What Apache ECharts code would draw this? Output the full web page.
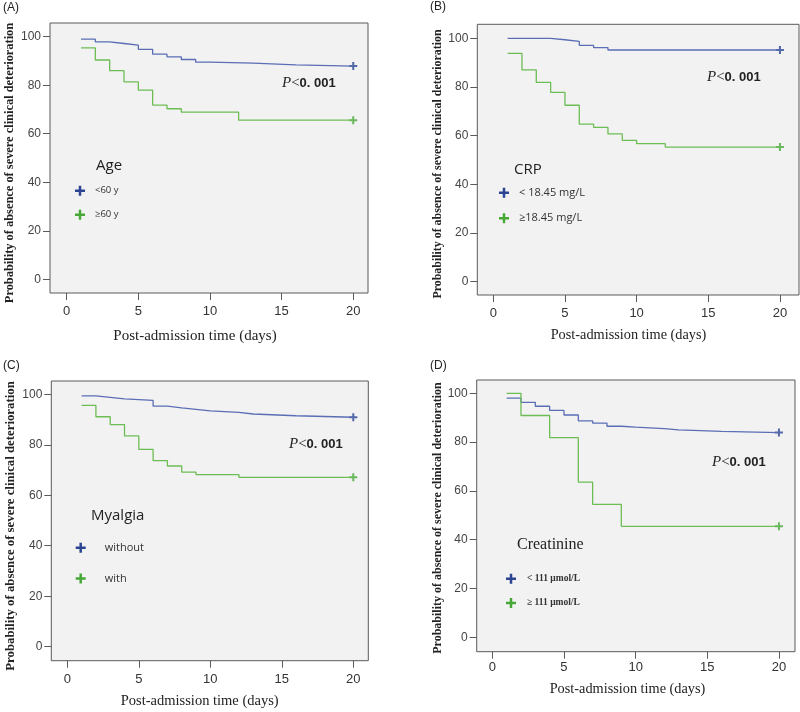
<!DOCTYPE html>
<html>
<head>
<meta charset="utf-8">
<script src="https://cdn.jsdelivr.net/npm/echarts@6/dist/echarts.min.js"></script>
<style>html,body{margin:0;padding:0;background:#fff;}#c{width:800px;height:712px;}</style>
</head>
<body>
<div id="c"></div>
<script>
// ---- data ----
const xTicks = [0, 5, 10, 15, 20];
const yTicks = [0, 20, 40, 60, 80, 100];

const ageLowX  = [1, 2, 3, 4, 5, 6, 7, 8, 9, 10, 13, 16, 20];
const ageLowY  = [99.0, 97.9, 97.2, 96.5, 94.8, 92.8, 91.7, 90.6, 89.5, 89.1, 88.4, 87.9, 87.9];
const ageHighX = [1, 2, 3, 4, 5, 6, 7, 8, 12, 20];
const ageHighY = [95.4, 90.4, 86.0, 81.4, 78.0, 71.8, 70.3, 68.9, 65.6, 65.6];

const crpLowX  = [1, 4, 5, 6, 7, 8, 20];
const crpLowY  = [100, 99.4, 98.7, 97.1, 96.2, 95.2, 95.2];
const crpHighX = [1, 2, 3, 4, 5, 6, 7, 8, 9, 10, 12, 20];
const crpHighY = [93.8, 87.0, 81.9, 77.8, 72.5, 64.7, 63.4, 60.7, 58.1, 56.7, 55.3, 55.3];

const myaNoX  = [1, 2, 3, 4, 6, 7, 8, 9, 10, 12, 13, 16, 20];
const myaNoY  = [99.4, 98.8, 98.2, 97.6, 95.3, 94.6, 94.0, 93.4, 92.8, 92.2, 91.5, 90.9, 90.9];
const myaYesX = [1, 2, 3, 4, 5, 6, 7, 8, 9, 12, 20];
const myaYesY = [95.6, 91.1, 88.0, 83.5, 78.2, 73.7, 71.6, 69.2, 68.2, 67.1, 67.1];

const creLowX  = [1, 2, 3, 4, 5, 6, 7, 8, 9, 10, 12, 13, 16, 20];
const creLowY  = [98.0, 96.3, 94.7, 93.0, 91.1, 88.7, 87.8, 86.5, 86.1, 85.5, 85.0, 84.4, 83.9, 83.9];
const creHighX = [1, 2, 4, 6, 7, 9, 20];
const creHighY = [100, 90.9, 81.8, 63.6, 54.5, 45.5, 45.5];

const panelLabels = ['(A)', '(B)', '(C)', '(D)'];
const legendTitles = ['Age', 'CRP', 'Myalgia', 'Creatinine'];
const groupNames = [
  ['<60 y', '\u226560 y'],
  ['< 18.45 mg/L', '\u226518.45 mg/L'],
  ['without', 'with'],
  ['< 111 \u03bcmol/L', '\u2265 111 \u03bcmol/L']
];
const curves = [
  [[ageLowX, ageLowY], [ageHighX, ageHighY]],
  [[crpLowX, crpLowY], [crpHighX, crpHighY]],
  [[myaNoX, myaNoY], [myaYesX, myaYesY]],
  [[creLowX, creLowY], [creHighX, creHighY]]
];
const pText = 'P<0. 001';
const xTitle = 'Post-admission time (days)';
const yTitle = 'Probability of absence of severe clinical deterioration';

// ---- layout (styles / positions) ----
const frames = [
  {l: 50,    t: 23,    r: 368,   b: 293,   xmin: -1.165, xmax: 21.03, ymin: -5.65, ymax: 105.65},
  {l: 477.3, t: 24.3,  r: 799,   b: 295,   xmin: -1.116, xmax: 21.33, ymin: -5.46, ymax: 105.75},
  {l: 51.3,  t: 381,   r: 368.3, b: 660.7, xmin: -1.12,  xmax: 21.05, ymin: -5.55, ymax: 105.27},
  {l: 476.7, t: 380,   r: 795,   b: 651.7, xmin: -1.09,  xmax: 21.12, ymin: -5.9,  ymax: 105.45}
];
const lineColors = ['#5a6db5', '#6dbd55'];
const markColors = ['#2b4593', '#47a838'];
const plusPath = 'path://M3,0h2v3h3v2h-3v3h-2v-3h-3v-2h3z';

const labelPos = [[3, 8], [430, 7], [3, 366], [430, 366]];
const legendPos = [
  {title: [96, 166], left: 75, top: 185.7, gap: 14, textPad: 5, font: 'sans', size: 9.5, bold: 'normal', titleFont: 'sans'},
  {title: [514, 170], left: 499, top: 187.3, gap: 14.4, textPad: 5, font: 'sans', size: 11, bold: 'normal', titleFont: 'sans'},
  {title: [91, 516], left: 75.7, top: 542.3, gap: 19.7, textPad: 14, font: 'sans', size: 11, bold: 'normal', titleFont: 'sans'},
  {title: [517, 545], left: 506, top: 573.7, gap: 14.3, textPad: 6, font: 'serif', size: 9.5, bold: 'bold', titleFont: 'serif'}
];
const pPos = [[282, 83], [707, 77], [289, 444], [712, 462]];
const xTitlePos = [[195, 336, 15], [628.5, 335, 14.3], [199.7, 701, 14.5], [627.5, 689, 14.3]];
const yTitlePos = [[10, 163, 12.4], [437.7, 164, 11.9], [10.7, 526, 12.8], [437.7, 518, 12.0]];
const xLabelMargin = [12, 12, 12, 9];

const SANS = '"Liberation Sans", Arial, sans-serif';
const SERIF = '"Liberation Serif", "Times New Roman", serif';
const OPEN = '"Open Sans", "Liberation Sans", sans-serif';

const grid = [], xAxis = [], yAxis = [], series = [], legend = [], graphic = [];

frames.forEach((f, i) => {
  grid.push({
    left: f.l, top: f.t, width: f.r - f.l, height: f.b - f.t,
    show: true, backgroundColor: '#f2f2f2', borderColor: '#5a5a5a', borderWidth: 1
  });
  xAxis.push({
    type: 'value', gridIndex: i, min: f.xmin, max: f.xmax, position: 'bottom',
    axisLine: {show: false, onZero: false},
    axisTick: {show: true, inside: false, length: 7, customValues: xTicks, lineStyle: {color: '#5a5a5a', width: 1}},
    axisLabel: {show: true, customValues: xTicks, margin: xLabelMargin[i], color: '#333', fontSize: 13, fontFamily: SANS},
    splitLine: {show: false}
  });
  yAxis.push({
    type: 'value', gridIndex: i, min: f.ymin, max: f.ymax, position: 'left',
    axisLine: {show: false, onZero: false},
    axisTick: {show: true, inside: false, length: 7, customValues: yTicks, lineStyle: {color: '#5a5a5a', width: 1}},
    axisLabel: {show: true, customValues: yTicks, margin: 9, color: '#444', fontSize: 12, fontFamily: SANS},
    splitLine: {show: false}
  });
  curves[i].forEach((c, k) => {
    const xs = c[0], ys = c[1];
    series.push({
      type: 'line', name: groupNames[i][k], xAxisIndex: i, yAxisIndex: i,
      step: 'end', symbol: 'none', silent: true,
      data: xs.map((x, j) => [x, ys[j]]),
      lineStyle: {color: lineColors[k], width: 1.3},
      itemStyle: {color: markColors[k]}
    });
    const last = xs.length - 1;
    series.push({
      type: 'scatter', name: groupNames[i][k] + ' censored', xAxisIndex: i, yAxisIndex: i,
      symbol: plusPath, symbolSize: 8, silent: true,
      data: [[xs[last], ys[last]]],
      itemStyle: {color: markColors[k]}
    });
  });
  const lp = legendPos[i];
  legend.push({
    orient: 'vertical', left: lp.left, top: lp.top, padding: 0,
    itemGap: lp.gap, itemWidth: 10, itemHeight: 10, selectedMode: false,
    icon: plusPath,
    data: groupNames[i].map((n, k) => ({name: n, itemStyle: {color: markColors[k]}})),
    textStyle: {
      fontSize: lp.size, color: '#333', fontWeight: lp.bold,
      fontFamily: lp.font === 'serif' ? SERIF : OPEN,
      padding: [0, 0, 0, lp.textPad]
    }
  });
  graphic.push({
    type: 'text', x: labelPos[i][0], y: labelPos[i][1],
    style: {text: panelLabels[i], fill: '#222', fontSize: 12, fontFamily: SANS, textVerticalAlign: 'middle'}
  });
  graphic.push({
    type: 'text', x: lp.title[0], y: lp.title[1],
    style: {text: legendTitles[i], fill: '#222', fontSize: lp.titleFont === 'serif' ? 16 : 15,
      fontFamily: lp.titleFont === 'serif' ? SERIF : OPEN, textVerticalAlign: 'middle'}
  });
  graphic.push({
    type: 'text', x: pPos[i][0], y: pPos[i][1],
    style: {
      text: '{p|P}{lt|<}{n|' + pText.slice(2) + '}',
      textVerticalAlign: 'middle',
      rich: {
        p: {fontFamily: SERIF, fontStyle: 'italic', fontSize: 15, fill: '#222'},
        lt: {fontFamily: SERIF, fontSize: 15, fill: '#222'},
        n: {fontFamily: SANS, fontWeight: 'bold', fontSize: 13, fill: '#222'}
      }
    }
  });
  graphic.push({
    type: 'text', x: xTitlePos[i][0], y: xTitlePos[i][1],
    style: {text: xTitle, fill: '#222', fontSize: xTitlePos[i][2], fontFamily: SERIF, textAlign: 'center', textVerticalAlign: 'middle'}
  });
  graphic.push({
    type: 'text', x: yTitlePos[i][0], y: yTitlePos[i][1], rotation: Math.PI / 2,
    style: {text: yTitle, fill: '#222', fontSize: yTitlePos[i][2], fontWeight: 'bold', fontFamily: SERIF,
      textAlign: 'center', textVerticalAlign: 'middle'}
  });
});

const chart = echarts.init(document.getElementById('c'), null, {renderer: 'canvas'});
chart.setOption({
  animation: false,
  backgroundColor: '#ffffff',
  grid, xAxis, yAxis, series, legend, graphic
});
</script>
</body>
</html>
